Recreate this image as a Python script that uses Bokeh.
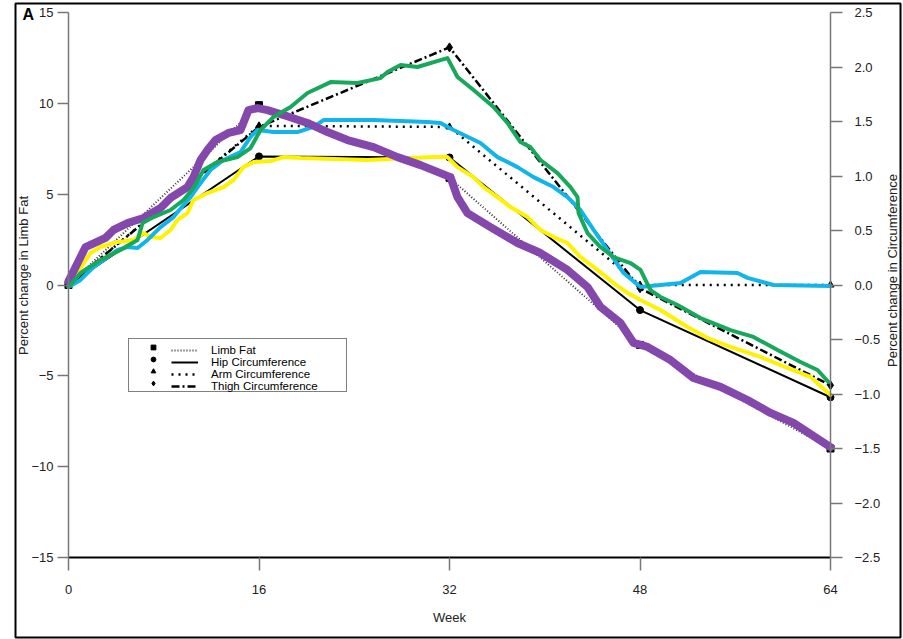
from bokeh.plotting import figure
from bokeh.models import (Range1d, LinearAxis, FixedTicker, Legend, LegendItem, Label)
from bokeh.embed import file_html
from bokeh.resources import INLINE

FONT = "Liberation Sans"

# ---- black study series (markers at the measurement weeks) ----
weeks = [0, 16, 32, 48, 64]
limb_fat = [0.0, 9.9, 5.9, -3.3, -9.0]          # left axis (%)
hip_circ = [0.0, 1.18, 1.17, -0.23, -1.03]      # right axis (%)
arm_circ = [0.0, 1.46, 1.45, 0.0, 0.0]          # right axis (%)
thigh_circ = [0.0, 1.45, 2.18, -0.03, -0.92]    # right axis (%)

# ---- coloured overlay traces (left-axis units) ----
purple_x = [0, 1.43, 3.11, 3.78, 4.96, 6.30, 7.73, 8.57, 9.99, 10.50, 11.09, 11.67,
            12.35, 13.44, 14.45, 15.12, 15.9, 16.71, 18.06, 20.07, 21.75, 23.43,
            25.62, 27.63, 29.57, 31.24, 32.08, 32.67, 33.51, 35.44, 37.71, 39.64,
            41.91, 43.59, 44.68, 46.36, 47.46, 48.63, 50.56, 52.49, 54.76, 57.03,
            58.96, 60.89, 64.0]
purple_y = [0.2, 2.09, 2.59, 3.03, 3.41, 3.69, 4.24, 4.79, 5.39, 5.94, 6.88, 7.43,
            7.98, 8.37, 8.53, 9.63, 9.74, 9.63, 9.36, 8.92, 8.42, 7.98,
            7.59, 7.04, 6.60, 6.16, 5.94, 4.84, 3.96, 3.19, 2.31, 1.76,
            0.83, -0.11, -1.21, -2.09, -3.19, -3.41, -4.13, -5.12, -5.61, -6.33,
            -7.04, -7.59, -8.92]

green_x = [0, 1.01, 2.69, 4.37, 5.80, 6.22, 7.14, 8.57, 9.66, 10.50, 11.34, 12.51,
           14.19, 15.29, 16.13, 17.22, 18.65, 20.07, 22.01, 24.27, 26.21, 26.79,
           27.89, 29.31, 31.24, 31.83, 32.67, 34.02, 35.70, 36.87, 37.96, 38.80,
           39.64, 41.07, 42.16, 42.75, 42.84, 43.59, 44.68, 45.78, 47.20, 48.04,
           48.88, 49.72, 51.15, 53.08, 55.60, 57.53, 59.55, 61.48, 62.91, 63.83]
green_y = [-0.11, 0.66, 1.38, 1.93, 2.48, 3.41, 3.74, 4.13, 4.68, 5.34, 6.33, 6.77,
           7.04, 7.54, 8.53, 9.25, 9.80, 10.57, 11.17, 11.12, 11.39, 11.72,
           12.11, 12.00, 12.38, 12.49, 11.45, 10.73, 9.80, 8.92, 7.87, 7.59,
           6.88, 6.16, 5.39, 4.84, 3.96, 2.86, 2.09, 1.54, 1.21, 0.83,
           -0.28, -0.66, -1.10, -1.82, -2.48, -2.86, -3.58, -4.24, -4.68, -5.34]

blue_x = [0, 1.01, 2.10, 3.28, 4.12, 4.96, 5.80, 6.64, 7.73, 8.82, 9.66, 10.25,
          11.09, 11.93, 13.02, 14.45, 15.29, 15.87, 17.22, 19.23, 20.58, 21.42,
          25.62, 30.15, 31.24, 32.34, 34.60, 36.03, 37.71, 39.06, 40.74, 41.91,
          43.00, 44.10, 45.27, 46.62, 48.04, 51.40, 53.08, 56.19, 57.03, 59.21, 64.0]
blue_y = [-0.11, 0.28, 0.99, 1.54, 1.93, 2.09, 2.04, 2.48, 3.19, 3.74, 4.40, 4.84,
          5.61, 6.33, 6.88, 7.32, 8.15, 8.53, 8.42, 8.42, 8.70, 9.08,
          9.08, 8.97, 8.92, 8.53, 7.82, 7.04, 6.49, 5.94, 5.39, 4.84,
          4.13, 3.03, 1.93, 0.66, -0.11, 0.11, 0.72, 0.66, 0.39, 0.0, -0.06]

yellow_x = [0, 1.01, 1.85, 2.69, 4.12, 5.46, 6.30, 6.89, 7.73, 8.57, 9.16, 9.99,
            10.50, 11.67, 13.02, 13.86, 14.70, 15.54, 16.97, 18.06, 19.49, 25.11,
            30.66, 31.83, 32.67, 34.02, 34.86, 36.03, 37.12, 38.55, 39.64, 40.74,
            41.91, 43.00, 44.43, 45.78, 46.95, 48.04, 49.72, 51.99, 53.67, 55.60,
            58.12, 60.39, 62.32, 64.0]
yellow_y = [0.11, 0.94, 1.76, 2.09, 2.37, 2.48, 2.86, 2.64, 2.59, 3.03, 3.58, 3.96,
            4.68, 5.06, 5.39, 5.78, 6.49, 6.77, 6.82, 7.04, 6.99, 6.88,
            7.04, 7.04, 6.49, 5.94, 5.39, 4.84, 4.29, 3.74, 3.03, 2.64,
            2.31, 1.54, 0.83, 0.11, -0.44, -0.83, -1.38, -2.31, -2.92, -3.41,
            -3.96, -4.57, -5.06, -6.05]

left_ticks = [-15, -10, -5, 0, 5, 10, 15]
right_ticks = [-2.5, -2.0, -1.5, -1.0, -0.5, 0.0, 0.5, 1.0, 1.5, 2.0, 2.5]

# The frame is the outer boxed panel; axes sit inside it at fixed locations.
PX_PER_WEEK = 762 / 64.0
PX_PER_PCT = 545 / 30.0
x_lo = 0 - 53 / PX_PER_WEEK
x_hi = 64 + 70 / PX_PER_WEEK
y_hi = 15 + 9 / PX_PER_PCT
y_lo = -15 - 80 / PX_PER_PCT

p = figure(frame_width=885, frame_height=634,
           x_range=Range1d(x_lo, x_hi), y_range=Range1d(y_lo, y_hi),
           output_backend="svg", toolbar_location=None,
           min_border_left=15, min_border_right=3,
           min_border_top=3, min_border_bottom=2)
p.extra_y_ranges = {"right": Range1d(y_lo / 6.0, y_hi / 6.0)}
p.grid.visible = False
p.outline_line_color = "black"
p.outline_line_width = 2
p.background_fill_color = "white"
p.border_fill_color = "white"


def style_axis(ax, tick_out):
    ax.major_tick_in = 0
    ax.major_tick_out = tick_out
    ax.minor_tick_line_color = None
    ax.axis_line_color = "#777777"
    ax.axis_line_width = 1.5
    ax.major_tick_line_color = "#777777"
    ax.major_tick_line_width = 1.5
    ax.major_label_text_font = FONT
    ax.major_label_text_font_size = "13px"
    ax.major_label_text_color = "#222222"
    ax.axis_label_text_font = FONT
    ax.axis_label_text_font_size = "13px"
    ax.axis_label_text_font_style = "normal"
    ax.axis_label_text_color = "#222222"


xa = p.xaxis[0]
style_axis(xa, 13)
xa.fixed_location = -15
xa.bounds = (0, 64)
xa.ticker = FixedTicker(ticks=weeks)
xa.axis_line_color = "black"
xa.axis_line_width = 2
xa.major_label_standoff = 14
xa.axis_label = "Week"
xa.axis_label_standoff = 13

ya = p.yaxis[0]
style_axis(ya, 11)
ya.fixed_location = 0
ya.bounds = (-15, 15)
ya.ticker = FixedTicker(ticks=left_ticks)
ya.major_label_standoff = 4
ya.major_label_overrides = {t: ("\u2212" + str(abs(t)) if t < 0 else str(t)) for t in left_ticks}

ra = LinearAxis(y_range_name="right")
style_axis(ra, 12)
ra.fixed_location = 64
ra.bounds = (-2.5, 2.5)
ra.ticker = FixedTicker(ticks=right_ticks)
ra.major_label_standoff = 12
ra.major_label_overrides = {t: ("\u2212%.1f" % abs(t) if t < 0 else "%.1f" % t) for t in right_ticks}
p.add_layout(ra, "right")

# black series
lf_line = p.line(weeks, limb_fat, line_color="#333333", line_width=2, line_dash="1 2")
hip_line = p.line(weeks, hip_circ, y_range_name="right", line_color="black", line_width=2)
arm_line = p.line(weeks, arm_circ, y_range_name="right", line_color="black",
                  line_width=2.5, line_dash="2 5")
thigh_line = p.line(weeks, thigh_circ, y_range_name="right", line_color="black",
                    line_width=2.5, line_dash="8 3 2 3")
lf_pts = p.scatter(weeks, limb_fat, marker="square", size=7, color="black")
hip_pts = p.scatter(weeks, hip_circ, y_range_name="right", marker="circle", size=7, color="black")
arm_pts = p.scatter(weeks, arm_circ, y_range_name="right", marker="triangle", size=7, color="black")
thigh_pts = p.scatter(weeks, thigh_circ, y_range_name="right", marker="diamond", size=9, color="black")

# coloured overlay traces
p.line(yellow_x, yellow_y, line_color="#fff200", line_width=4, line_join="round", line_cap="round")
p.line(blue_x, blue_y, line_color="#12b5ea", line_width=4, line_join="round", line_cap="round")
p.line(purple_x, purple_y, line_color="#8448ad", line_width=8, line_join="round", line_cap="round")
p.line(green_x, green_y, line_color="#17a85b", line_width=4, line_join="round", line_cap="round")

labels = ["Limb Fat", "Hip Circumference", "Arm Circumference", "Thigh Circumference"]
marks = [lf_pts, hip_pts, arm_pts, thigh_pts]
lines = [lf_line, hip_line, arm_line, thigh_line]

leg1 = Legend(items=[LegendItem(label=" ", renderers=[m]) for m in marks],
              location=(113, 245), orientation="vertical",
              glyph_width=44, glyph_height=12, label_height=12, label_width=164,
              label_standoff=5, padding=2, spacing=0, margin=0,
              border_line_color="black", border_line_width=1,
              background_fill_color="white", background_fill_alpha=1,
              label_text_font=FONT, label_text_font_size="10px")
leg2 = Legend(items=[LegendItem(label=l, renderers=[r]) for l, r in zip(labels, lines)],
              location=(156, 245), orientation="vertical",
              glyph_width=27, glyph_height=12, label_height=12,
              label_standoff=13, padding=2, spacing=0, margin=0,
              border_line_color=None, background_fill_alpha=0,
              label_text_font=FONT, label_text_font_size="11.5px",
              label_text_color="black")
p.add_layout(leg1, "center")
p.add_layout(leg2, "center")

p.add_layout(Label(x=8, y=362, x_units="screen", y_units="screen",
                   text="Percent change in Limb Fat", angle=1.5708,
                   text_align="center", text_baseline="middle",
                   text_font=FONT, text_font_size="13px", text_color="#222222"))
p.add_layout(Label(x=877, y=367, x_units="screen", y_units="screen",
                   text="Percent change in Circumference", angle=1.5708,
                   text_align="center", text_baseline="middle",
                   text_font=FONT, text_font_size="13px", text_color="#222222"))
p.add_layout(Label(x=7, y=623, x_units="screen", y_units="screen", text="A",
                   text_align="left", text_baseline="middle", text_font=FONT,
                   text_font_size="16px", text_font_style="bold", text_color="black"))

open("out.html", "w").write(file_html(p, INLINE))
